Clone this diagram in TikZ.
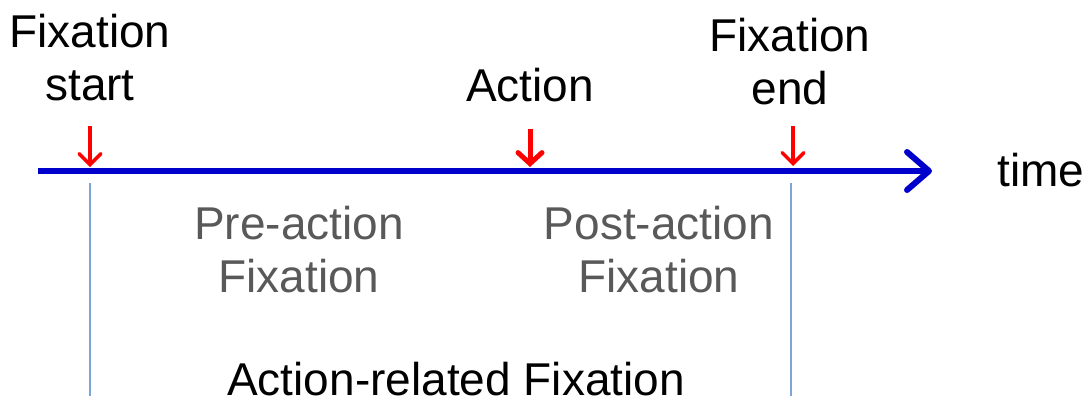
\documentclass[tikz,border=0pt]{standalone}
\usepackage{fontspec}
\setmainfont{Liberation Sans}
\usetikzlibrary{arrows.meta}
\definecolor{axisblue}{RGB}{0,0,204}
\definecolor{evred}{RGB}{255,0,0}
\definecolor{sepblue}{RGB}{125,165,215}
\definecolor{txtgray}{RGB}{89,89,89}
\begin{document}
\begin{tikzpicture}[x=1pt,y=-1pt,
  lbl/.style={inner sep=0pt,align=center,font=\fontsize{46}{53}\selectfont},
  glbl/.style={lbl,text=txtgray},
  axis/.style={draw=axisblue,line width=6pt,-{Straight Barb[length=22pt,width=38pt,line join=round,line cap=round]}},
  evarrow/.style={draw=evred,line width=3.5pt,-{Straight Barb[length=11pt,width=22pt,line cap=round]}},
  evarrowthick/.style={draw=evred,line width=5pt,-{Straight Barb[length=11pt,width=24pt,line cap=round]}},
  sep/.style={draw=sepblue,line width=1.5pt}]
\useasboundingbox (0,0) rectangle (1089,402);
% axis
\coordinate (a0) at (38,171);
\coordinate (a1) at (932,171);
\draw[axis] (a0) -- (a1);
% event arrows
\coordinate (s0) at (90,126);  \coordinate (s1) at (90,167);
\coordinate (c0) at (530,129); \coordinate (c1) at (530,167);
\coordinate (e0) at (793,126); \coordinate (e1) at (793,166);
\draw[evarrow] (s0) -- (s1);
\draw[evarrowthick] (c0) -- (c1);
\draw[evarrow] (e0) -- (e1);
% separators
\coordinate (v0) at (90,183);  \coordinate (v1) at (90,396);
\coordinate (w0) at (791,183); \coordinate (w1) at (791,396);
\draw[sep] (v0) -- (v1);
\draw[sep] (w0) -- (w1);
% labels
\node[lbl,anchor=base] (fs) at (90,100) {Fixation\\start};
\node[lbl,anchor=base] (act) at (530,101) {Action};
\node[lbl,anchor=base] (fe) at (790,104) {Fixation\\end};
\node[lbl,anchor=base west] (time) at (997,186) {time};
\node[glbl,anchor=base] (pre) at (299,292) {Pre-action\\Fixation};
\node[glbl,anchor=base] (post) at (659,292) {Post-action\\Fixation};
\node[lbl,anchor=base] (arf) at (456,395) {Action-related Fixation};
\end{tikzpicture}
\end{document}
